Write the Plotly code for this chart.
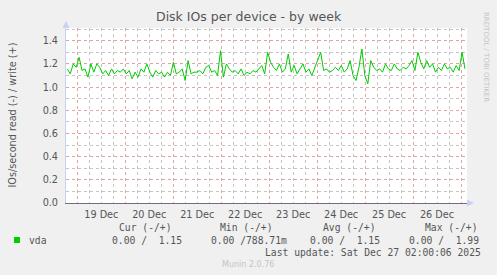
import pandas as pd
import plotly.graph_objects as go

# ---- data ----
write_vals = [
    1.157, 1.114, 1.200, 1.171, 1.257, 1.143, 1.157, 1.086, 1.200, 1.129,
    1.200, 1.171, 1.114, 1.143, 1.100, 1.157, 1.114, 1.143, 1.129, 1.157,
    1.114, 1.143, 1.071, 1.129, 1.086, 1.157, 1.129, 1.200, 1.129, 1.086,
    1.143, 1.114, 1.129, 1.086, 1.129, 1.100, 1.214, 1.114, 1.129, 1.157,
    1.057, 1.229, 1.114, 1.129, 1.129,
    1.143, 1.114, 1.171, 1.186, 1.129, 1.143, 1.100, 1.314, 1.086,
    1.200, 1.157, 1.129, 1.143, 1.114, 1.157, 1.100, 1.129, 1.114, 1.143,
    1.129, 1.157, 1.186, 1.114, 1.300, 1.214, 1.171, 1.143, 1.200, 1.129,
    1.157, 1.286, 1.129, 1.186, 1.114, 1.157, 1.200, 1.129, 1.157, 1.100,
    1.171, 1.229, 1.300, 1.143, 1.157, 1.129,
    1.143, 1.171, 1.143, 1.186, 1.129, 1.157, 1.229, 1.100, 1.057, 1.171,
    1.329, 1.100, 1.029, 1.229, 1.171, 1.143, 1.157, 1.129, 1.200, 1.157,
    1.143, 1.200, 1.157, 1.143, 1.171, 1.157, 1.186, 1.229, 1.143, 1.300,
    1.214, 1.157, 1.229, 1.171, 1.200, 1.129, 1.171, 1.143, 1.200, 1.157,
    1.171, 1.129, 1.186, 1.143, 1.300, 1.157,
]
series_start = "2025-12-18 19:00"
series_end = "2025-12-27 02:00"
times = pd.date_range(start=series_start, end=series_end, periods=len(write_vals))

x_range = ["2025-12-18 18:20", "2025-12-27 03:00"]
y_range = [0, 1.51]

title = "Disk IOs per device - by week"
y_title = "IOs/second read (-) / write (+)"
series_name = "vda"
col_headers = ["Cur (-/+)", "Min (-/+)", "Avg (-/+)", "Max (-/+)"]
col_values = ["0.00 /  1.15", "0.00 /788.71m", "0.00 /  1.15", "0.00 /  1.99"]
last_update = "Last update: Sat Dec 27 02:00:06 2025"
footer = "Munin 2.0.76"
watermark = "RRDTOOL / TOBI OETIKER"

W, H = 497, 275
ML, MR, MT, MB = 66, 30, 28, 72
PW, PH = W - ML - MR, H - MT - MB


def px(x):
    return (x - ML) / PW


def py(y):
    return (H - MB - y) / PH


GREEN = "#00CC00"
MAJOR = "rgba(220,130,130,0.75)"
MINOR = "rgba(190,190,190,0.9)"
TXT = "#555555"
MONO = "DejaVu Sans Mono"

fig = go.Figure()
fig.add_trace(go.Scatter(x=times, y=write_vals, mode="lines",
                         line=dict(color=GREEN, width=1), showlegend=False,
                         hoverinfo="skip"))

fig.update_layout(
    width=W, height=H,
    margin=dict(l=ML, r=MR, t=MT, b=MB),
    paper_bgcolor="#F0F0F0", plot_bgcolor="#FFFFFF",
    font=dict(family="DejaVu Sans", size=9.7, color=TXT),
    showlegend=False,
)
fig.update_xaxes(
    type="date", range=x_range,
    tick0="2025-12-19", dtick=86400000, ticklabelmode="period",
    tickformat="%d %b", ticks="", ticklabelstandoff=2,
    showgrid=True, gridcolor=MAJOR, griddash="dot", gridwidth=1,
    minor=dict(dtick=6 * 3600000, showgrid=True, gridcolor=MINOR,
               griddash="dot", gridwidth=1),
    showline=True, linecolor="#6E6E80", linewidth=1, zeroline=False,
    tickfont=dict(color=TXT, size=9.7),
)
fig.update_yaxes(
    range=y_range, dtick=0.2, tick0=0, tickformat=".1f", ticks="",
    ticklabelstandoff=5,
    showgrid=True, gridcolor=MAJOR, griddash="dot", gridwidth=1,
    minor=dict(dtick=0.1, showgrid=True, gridcolor=MINOR, griddash="dot",
               gridwidth=1),
    showline=True, linecolor="#C8D0F4", linewidth=1, zeroline=False,
    tickfont=dict(color=TXT, size=9.7),
)

ann = []
ann.append(dict(text=title, x=px(249), y=py(17), xref="paper", yref="paper",
                showarrow=False, xanchor="center", yanchor="middle",
                font=dict(size=12.5, color=TXT)))
ann.append(dict(text=y_title, x=px(12), y=0.5, xref="paper", yref="paper",
                showarrow=False, textangle=-90, xanchor="center",
                yanchor="middle", font=dict(size=9.7, color=TXT)))
ann.append(dict(text=watermark, x=px(486), y=py(57), xref="paper",
                yref="paper", showarrow=False, textangle=90, xanchor="center",
                yanchor="middle", font=dict(size=7, color="#C4C4C4")))
head_x = [117, 218, 321, 423]
val_x = [110, 209, 308, 407]
for h, xh in zip(col_headers, head_x):
    ann.append(dict(text=h, x=px(xh), y=py(227.5), xref="paper", yref="paper",
                    showarrow=False, xanchor="left", yanchor="middle",
                    font=dict(family=MONO, size=9.7, color=TXT)))
for v, xv in zip(col_values, val_x):
    ann.append(dict(text=v.replace(" ", "&nbsp;"), x=px(xv), y=py(240),
                    xref="paper", yref="paper", showarrow=False,
                    xanchor="left", yanchor="middle",
                    font=dict(family=MONO, size=9.7, color=TXT)))
ann.append(dict(text=series_name, x=px(26.5), y=py(240), xref="paper",
                yref="paper", showarrow=False, xanchor="left",
                yanchor="middle", font=dict(family=MONO, size=9.7, color=TXT)))
ann.append(dict(text=last_update, x=px(483), y=py(252), xref="paper",
                yref="paper", showarrow=False, xanchor="right",
                yanchor="middle", font=dict(family=MONO, size=9.7, color=TXT)))
ann.append(dict(text=footer, x=px(248), y=py(264), xref="paper",
                yref="paper", showarrow=False, xanchor="center",
                yanchor="middle", font=dict(size=8, color="#C4C4C4")))
fig.update_layout(annotations=ann)

shapes = []
# legend colour square
shapes.append(dict(type="rect", xref="paper", yref="paper",
                   x0=px(14), x1=px(20), y0=py(243), y1=py(237),
                   fillcolor=GREEN, line=dict(width=0)))
# axis arrows
shapes.append(dict(type="path", xref="paper", yref="paper",
                   path=f"M {px(467)} {py(199.5)} L {px(474)} {py(203)} L {px(467)} {py(206.5)} Z",
                   fillcolor="#C8D0F4", line=dict(width=0)))
shapes.append(dict(type="path", xref="paper", yref="paper",
                   path=f"M {px(62.5)} {py(28)} L {px(66)} {py(21)} L {px(69.5)} {py(28)} Z",
                   fillcolor="#C8D0F4", line=dict(width=0)))
fig.update_layout(shapes=shapes)

fig.write_html("out.html")
